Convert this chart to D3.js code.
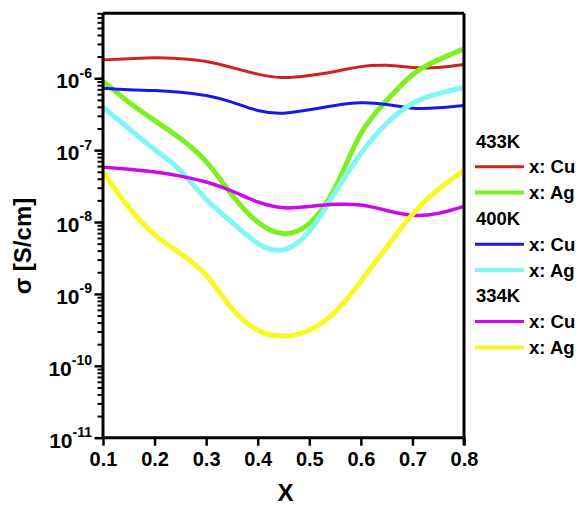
<!DOCTYPE html>
<html>
<head>
<meta charset="utf-8">
<script src="https://cdn.jsdelivr.net/npm/d3@7/dist/d3.min.js"></script>
<style>
  html, body { margin: 0; padding: 0; background: #fff; }
  svg { display: block; font-family: "Liberation Sans", Arial, sans-serif; font-weight: bold; }
</style>
</head>
<body>
<svg id="chart" width="580" height="512"></svg>
<script>
// Composition x (0.1 ... 0.8)
const xValues = [0.10, 0.15, 0.20, 0.25, 0.30, 0.35, 0.40, 0.45, 0.50, 0.55, 0.60, 0.65, 0.70, 0.75, 0.80];

// Conductivity σ [S/cm]
const cu433 = [1.80e-6, 1.86e-6, 1.92e-6, 1.86e-6, 1.71e-6, 1.41e-6, 1.14e-6, 1.02e-6, 1.09e-6, 1.24e-6, 1.45e-6, 1.51e-6, 1.41e-6, 1.41e-6, 1.55e-6];
const ag433 = [9.1e-7, 4.65e-7, 2.59e-7, 1.45e-7, 6.9e-8, 2.4e-8, 1.0e-8, 6.9e-9, 9.5e-9, 3.0e-8, 1.7e-7, 4.9e-7, 1.12e-6, 1.8e-6, 2.56e-6];
const cu400 = [7.26e-7, 6.9e-7, 6.75e-7, 6.4e-7, 5.75e-7, 4.65e-7, 3.56e-7, 3.27e-7, 3.64e-7, 4.18e-7, 4.55e-7, 4.31e-7, 3.83e-7, 3.88e-7, 4.18e-7];
const ag400 = [3.95e-7, 2.0e-7, 1.02e-7, 5.2e-8, 2.07e-8, 9.9e-9, 5.06e-9, 4.1e-9, 7.4e-9, 2.58e-8, 9.0e-8, 2.35e-7, 4.45e-7, 6.1e-7, 7.5e-7];
const cu334 = [5.8e-8, 5.4e-8, 4.95e-8, 4.35e-8, 3.6e-8, 2.7e-8, 1.9e-8, 1.58e-8, 1.64e-8, 1.76e-8, 1.72e-8, 1.45e-8, 1.24e-8, 1.32e-8, 1.65e-8];
const ag334 = [4.95e-8, 1.6e-8, 6.7e-9, 3.64e-9, 1.82e-9, 6.3e-10, 3.13e-10, 2.59e-10, 3.13e-10, 5.6e-10, 1.5e-9, 4.46e-9, 1.28e-8, 2.84e-8, 5.2e-8];

const xTicks = [0.1, 0.2, 0.3, 0.4, 0.5, 0.6, 0.7, 0.8];
const yMajorExponents = [-11, -10, -9, -8, -7, -6];
const temperatures = ["433K", "400K", "334K"];

const series = [
  { temp: "433K", label: "x: Cu", values: cu433, color: "#d21f1f", width: 3 },
  { temp: "433K", label: "x: Ag", values: ag433, color: "#7ef022", width: 5 },
  { temp: "400K", label: "x: Cu", values: cu400, color: "#1818ee", width: 3 },
  { temp: "400K", label: "x: Ag", values: ag400, color: "#80f6f8", width: 5 },
  { temp: "334K", label: "x: Cu", values: cu334, color: "#cc08ee", width: 3.5 },
  { temp: "334K", label: "x: Ag", values: ag334, color: "#f8f822", width: 5 }
];

const svg = d3.select("#chart");
const plotLeft = 103, plotRight = 464, plotTop = 13.3, plotBottom = 437.7;

const x = d3.scaleLinear().domain([0.1, 0.8]).range([plotLeft, plotRight]);
const y = d3.scaleLog().domain([1e-11, 8e-6]).range([plotBottom, plotTop]);

// smooth spline through the measured points
const line = d3.line()
  .x(d => x(d[0]))
  .y(d => y(d[1]))
  .curve(d3.curveNatural);

const plot = svg.append("g");
series.forEach(s => {
  plot.append("path")
    .datum(xValues.map((v, i) => [v, s.values[i]]))
    .attr("fill", "none")
    .attr("stroke", s.color)
    .attr("stroke-width", s.width)
    .attr("stroke-linejoin", "round")
    .attr("d", line);
});

// frame: top and right borders
svg.append("line").attr("x1", plotLeft).attr("x2", plotRight).attr("y1", plotTop).attr("y2", plotTop)
  .attr("stroke", "#000").attr("stroke-width", 3);
svg.append("line").attr("x1", plotRight).attr("x2", plotRight).attr("y1", plotTop).attr("y2", plotBottom + 7.5)
  .attr("stroke", "#000").attr("stroke-width", 3);

// y axis: minor ticks
const minorVals = [];
for (let e = -11; e <= -6; e++) {
  for (let m = 2; m <= 9; m++) {
    const v = m * Math.pow(10, e);
    if (v <= 8e-6) minorVals.push(v);
  }
}
const yMinor = svg.append("g").attr("transform", `translate(${plotLeft},0)`)
  .call(d3.axisLeft(y).tickValues(minorVals).tickSize(5.5).tickFormat(""));
yMinor.select(".domain").remove();
yMinor.selectAll("line").attr("stroke", "#000").attr("stroke-width", 2);

// y axis: majors with 10^n labels
const yMajor = svg.append("g").attr("transform", `translate(${plotLeft},0)`)
  .call(d3.axisLeft(y).tickValues(yMajorExponents.map(e => Math.pow(10, e))).tickSize(8.5).tickFormat(() => ""));
yMajor.select(".domain").attr("stroke", "#000").attr("stroke-width", 3)
  .attr("d", `M0,${plotTop}V${plotBottom}`);
yMajor.selectAll("line").attr("stroke", "#000").attr("stroke-width", 2.5);
yMajor.selectAll(".tick").each(function(d, i) {
  const t = d3.select(this).select("text")
    .attr("fill", "#000")
    .attr("font-size", 21)
    .attr("font-weight", "bold")
    .attr("x", -11)
    .attr("dy", "0.45em")
    .attr("text-anchor", "end");
  t.text(null);
  t.append("tspan").text("10");
  t.append("tspan").attr("font-size", 14).attr("dy", "-0.75em").text(String(yMajorExponents[i]));
});

// x axis
const xAxis = svg.append("g").attr("transform", `translate(0,${plotBottom})`)
  .call(d3.axisBottom(x).tickValues(xTicks).tickSize(8).tickPadding(6).tickFormat(d3.format(".1f")));
xAxis.select(".domain").attr("stroke", "#000").attr("stroke-width", 3)
  .attr("d", `M${plotLeft},0H${plotRight}`);
xAxis.selectAll("line").attr("stroke", "#000").attr("stroke-width", 2.5);
xAxis.selectAll("text")
  .attr("fill", "#000")
  .attr("font-size", 20)
  .attr("font-weight", "bold");

// axis titles
svg.append("text")
  .attr("x", (plotLeft + plotRight) / 2 + 2)
  .attr("y", 501)
  .attr("text-anchor", "middle")
  .attr("font-size", 24)
  .text("X");

svg.append("text")
  .attr("transform", "translate(31,246) rotate(-90)")
  .attr("text-anchor", "middle")
  .attr("font-size", 24)
  .text("σ [S/cm]");

// legend
const legend = svg.append("g");
const rowH = 25.8;
let row = 0;
const lx0 = 475, lx1 = 524, ly0 = 141;
temperatures.forEach(temp => {
  legend.append("text")
    .attr("x", lx0 + 1)
    .attr("y", ly0 + row * rowH)
    .attr("dy", "0.36em")
    .attr("font-size", 18.5)
    .text(temp);
  row++;
  series.filter(s => s.temp === temp).forEach(s => {
    const yy = ly0 + row * rowH;
    legend.append("line")
      .attr("x1", lx0).attr("x2", lx1).attr("y1", yy).attr("y2", yy)
      .attr("stroke", s.color)
      .attr("stroke-width", s.width === 5 ? 4 : 3);
    legend.append("text")
      .attr("x", lx1 + 5)
      .attr("y", yy)
      .attr("dy", "0.36em")
      .attr("font-size", 18.5)
      .text(s.label);
    row++;
  });
});
</script>
</body>
</html>
